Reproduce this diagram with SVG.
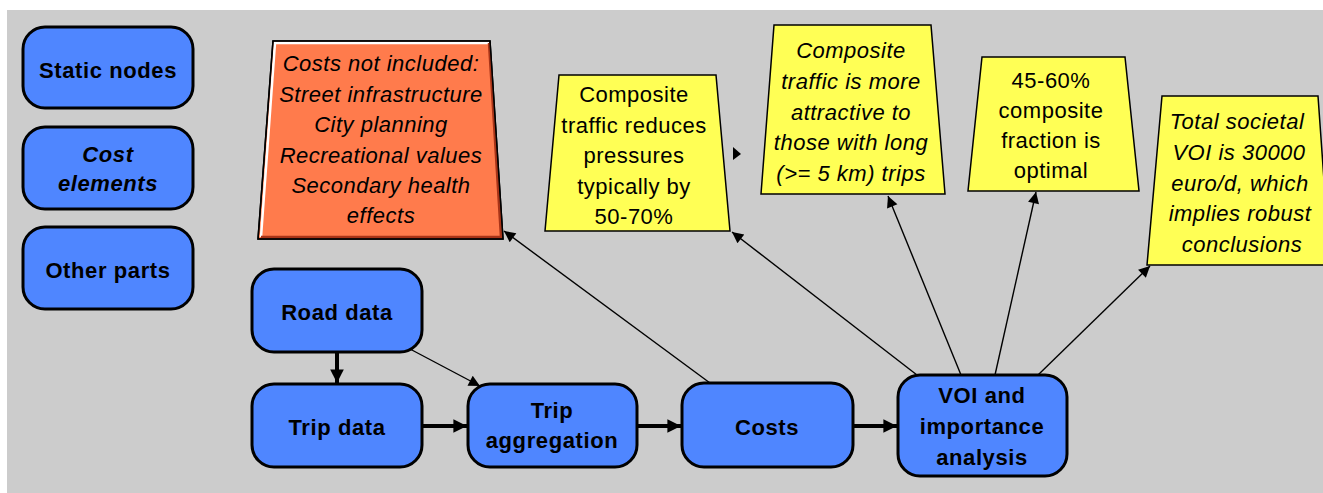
<svg xmlns="http://www.w3.org/2000/svg" width="1323" height="493" viewBox="0 0 1323 493">
<defs>
<style>
.node rect{fill:#4f86ff;stroke:#000;stroke-width:3}
.node text{font-family:"Liberation Sans",Arial,sans-serif;font-weight:bold;font-size:22px;letter-spacing:0.6px;text-anchor:middle;fill:#000}
.note polygon.f{stroke:#000;stroke-width:1.5}
.note text{font-family:"Liberation Sans",Arial,sans-serif;font-size:22px;letter-spacing:0.5px;text-anchor:middle;fill:#000}
.it{font-style:italic}
.thick{stroke:#000;stroke-width:4;fill:none}
.thin{stroke:#000;stroke-width:1.4;fill:none}
</style>
<marker id="ah" viewBox="0 0 10 10" refX="10" refY="5" markerWidth="4" markerHeight="3.4" orient="auto" markerUnits="strokeWidth"><path d="M0,0 L10,5 L0,10 z" fill="#000"/></marker>
<marker id="ah2" viewBox="0 0 10 10" refX="10" refY="5" markerWidth="12" markerHeight="8" orient="auto" markerUnits="strokeWidth"><path d="M0,0 L10,5 L0,10 z" fill="#000"/></marker>
</defs>
<rect x="7" y="10" width="1316" height="483" fill="#cccccc"/>

<g id="connectors">
<line class="thick" x1="337" y1="352" x2="337" y2="383" marker-end="url(#ah)"/>
<line class="thin" x1="410" y1="349" x2="480" y2="386" marker-end="url(#ah2)"/>
<line class="thick" x1="422" y1="426" x2="467" y2="426" marker-end="url(#ah)"/>
<line class="thick" x1="637" y1="426" x2="681" y2="426" marker-end="url(#ah)"/>
<line class="thick" x1="853" y1="426" x2="897" y2="426" marker-end="url(#ah)"/>
<line class="thin" x1="710" y1="383" x2="504" y2="231" marker-end="url(#ah2)"/>
<line class="thin" x1="917" y1="375" x2="732" y2="232" marker-end="url(#ah2)"/>
<line class="thin" x1="961" y1="375" x2="888" y2="196" marker-end="url(#ah2)"/>
<line class="thin" x1="995" y1="375" x2="1036" y2="192" marker-end="url(#ah2)"/>
<line class="thin" x1="1038" y1="375" x2="1150" y2="266" marker-end="url(#ah2)"/>
<path d="M733,147 L741,154 L733,160 z" fill="#000"/>
</g>

<g id="static-nodes" class="node"><rect x="23" y="27" width="170" height="81" rx="22"/><text x="108" y="78">Static nodes</text></g>
<g id="cost-elements" class="node"><rect x="23" y="127" width="170" height="82" rx="22"/><text x="108" y="162" class="it">Cost</text><text x="108" y="191" class="it">elements</text></g>
<g id="other-parts" class="node"><rect x="23" y="227" width="170" height="82" rx="22"/><text x="108" y="278">Other parts</text></g>

<g id="road-data" class="node"><rect x="252" y="269" width="170" height="83" rx="22"/><text x="337" y="320">Road data</text></g>
<g id="trip-data" class="node"><rect x="252" y="384" width="170" height="83" rx="22"/><text x="337" y="435">Trip data</text></g>
<g id="trip-aggregation" class="node"><rect x="468" y="384" width="169" height="83" rx="22"/><text x="552" y="418">Trip</text><text x="552" y="448">aggregation</text></g>
<g id="costs" class="node"><rect x="682" y="383" width="171" height="84" rx="22"/><text x="767" y="435">Costs</text></g>
<g id="voi" class="node"><rect x="898" y="375" width="169" height="101" rx="22"/><text x="982" y="403">VOI and</text><text x="982" y="434">importance</text><text x="982" y="465">analysis</text></g>

<g id="costs-not-included" class="note">
<polygon class="f" points="273,41 490,41 503,239 258,239" fill="#ff7b4c"/>
<polyline points="261,237 275,43 489,43" fill="none" stroke="#fff" stroke-width="2.5"/>
<polyline points="489,43 501,237 261,237" fill="none" stroke="#a83418" stroke-width="2.5"/>
<polygon points="273,41 490,41 503,239 258,239" fill="none" stroke="#000" stroke-width="1.5"/>
<text class="it" x="381" y="71">Costs not included:</text>
<text class="it" x="381" y="101.5">Street infrastructure</text>
<text class="it" x="381" y="132">City planning</text>
<text class="it" x="381" y="162.5">Recreational values</text>
<text class="it" x="381" y="193">Secondary health</text>
<text class="it" x="381" y="223">effects</text>
</g>

<g id="note-reduces" class="note">
<polygon class="f" points="559,75 716,75 730,231 545,231" fill="#ffff55"/>
<text x="634" y="102">Composite</text>
<text x="634" y="132.5">traffic reduces</text>
<text x="634" y="163">pressures</text>
<text x="634" y="193.5">typically by</text>
<text x="634" y="224">50-70%</text>
</g>

<g id="note-attractive" class="note">
<polygon class="f" points="774,25 931,25 945,194 761,194" fill="#ffff55"/>
<text class="it" x="851" y="58">Composite</text>
<text class="it" x="851" y="89">traffic is more</text>
<text class="it" x="851" y="120">attractive to</text>
<text class="it" x="851" y="150">those with long</text>
<text class="it" x="851" y="181">(&gt;= 5 km) trips</text>
</g>

<g id="note-fraction" class="note">
<polygon class="f" points="982,57 1125,57 1139,191 968,191" fill="#ffff55"/>
<text x="1051" y="88">45-60%</text>
<text x="1051" y="118">composite</text>
<text x="1051" y="148">fraction is</text>
<text x="1051" y="178">optimal</text>
</g>

<g id="note-voi" class="note">
<polygon class="f" points="1162,96 1318,96 1330,265 1147,265" fill="#ffff55"/>
<text class="it" x="1237" y="129">Total societal</text>
<text class="it" x="1239" y="160">VOI is 30000</text>
<text class="it" x="1240" y="191">euro/d, which</text>
<text class="it" x="1240" y="221">implies robust</text>
<text class="it" x="1242" y="252">conclusions</text>
</g>
</svg>
